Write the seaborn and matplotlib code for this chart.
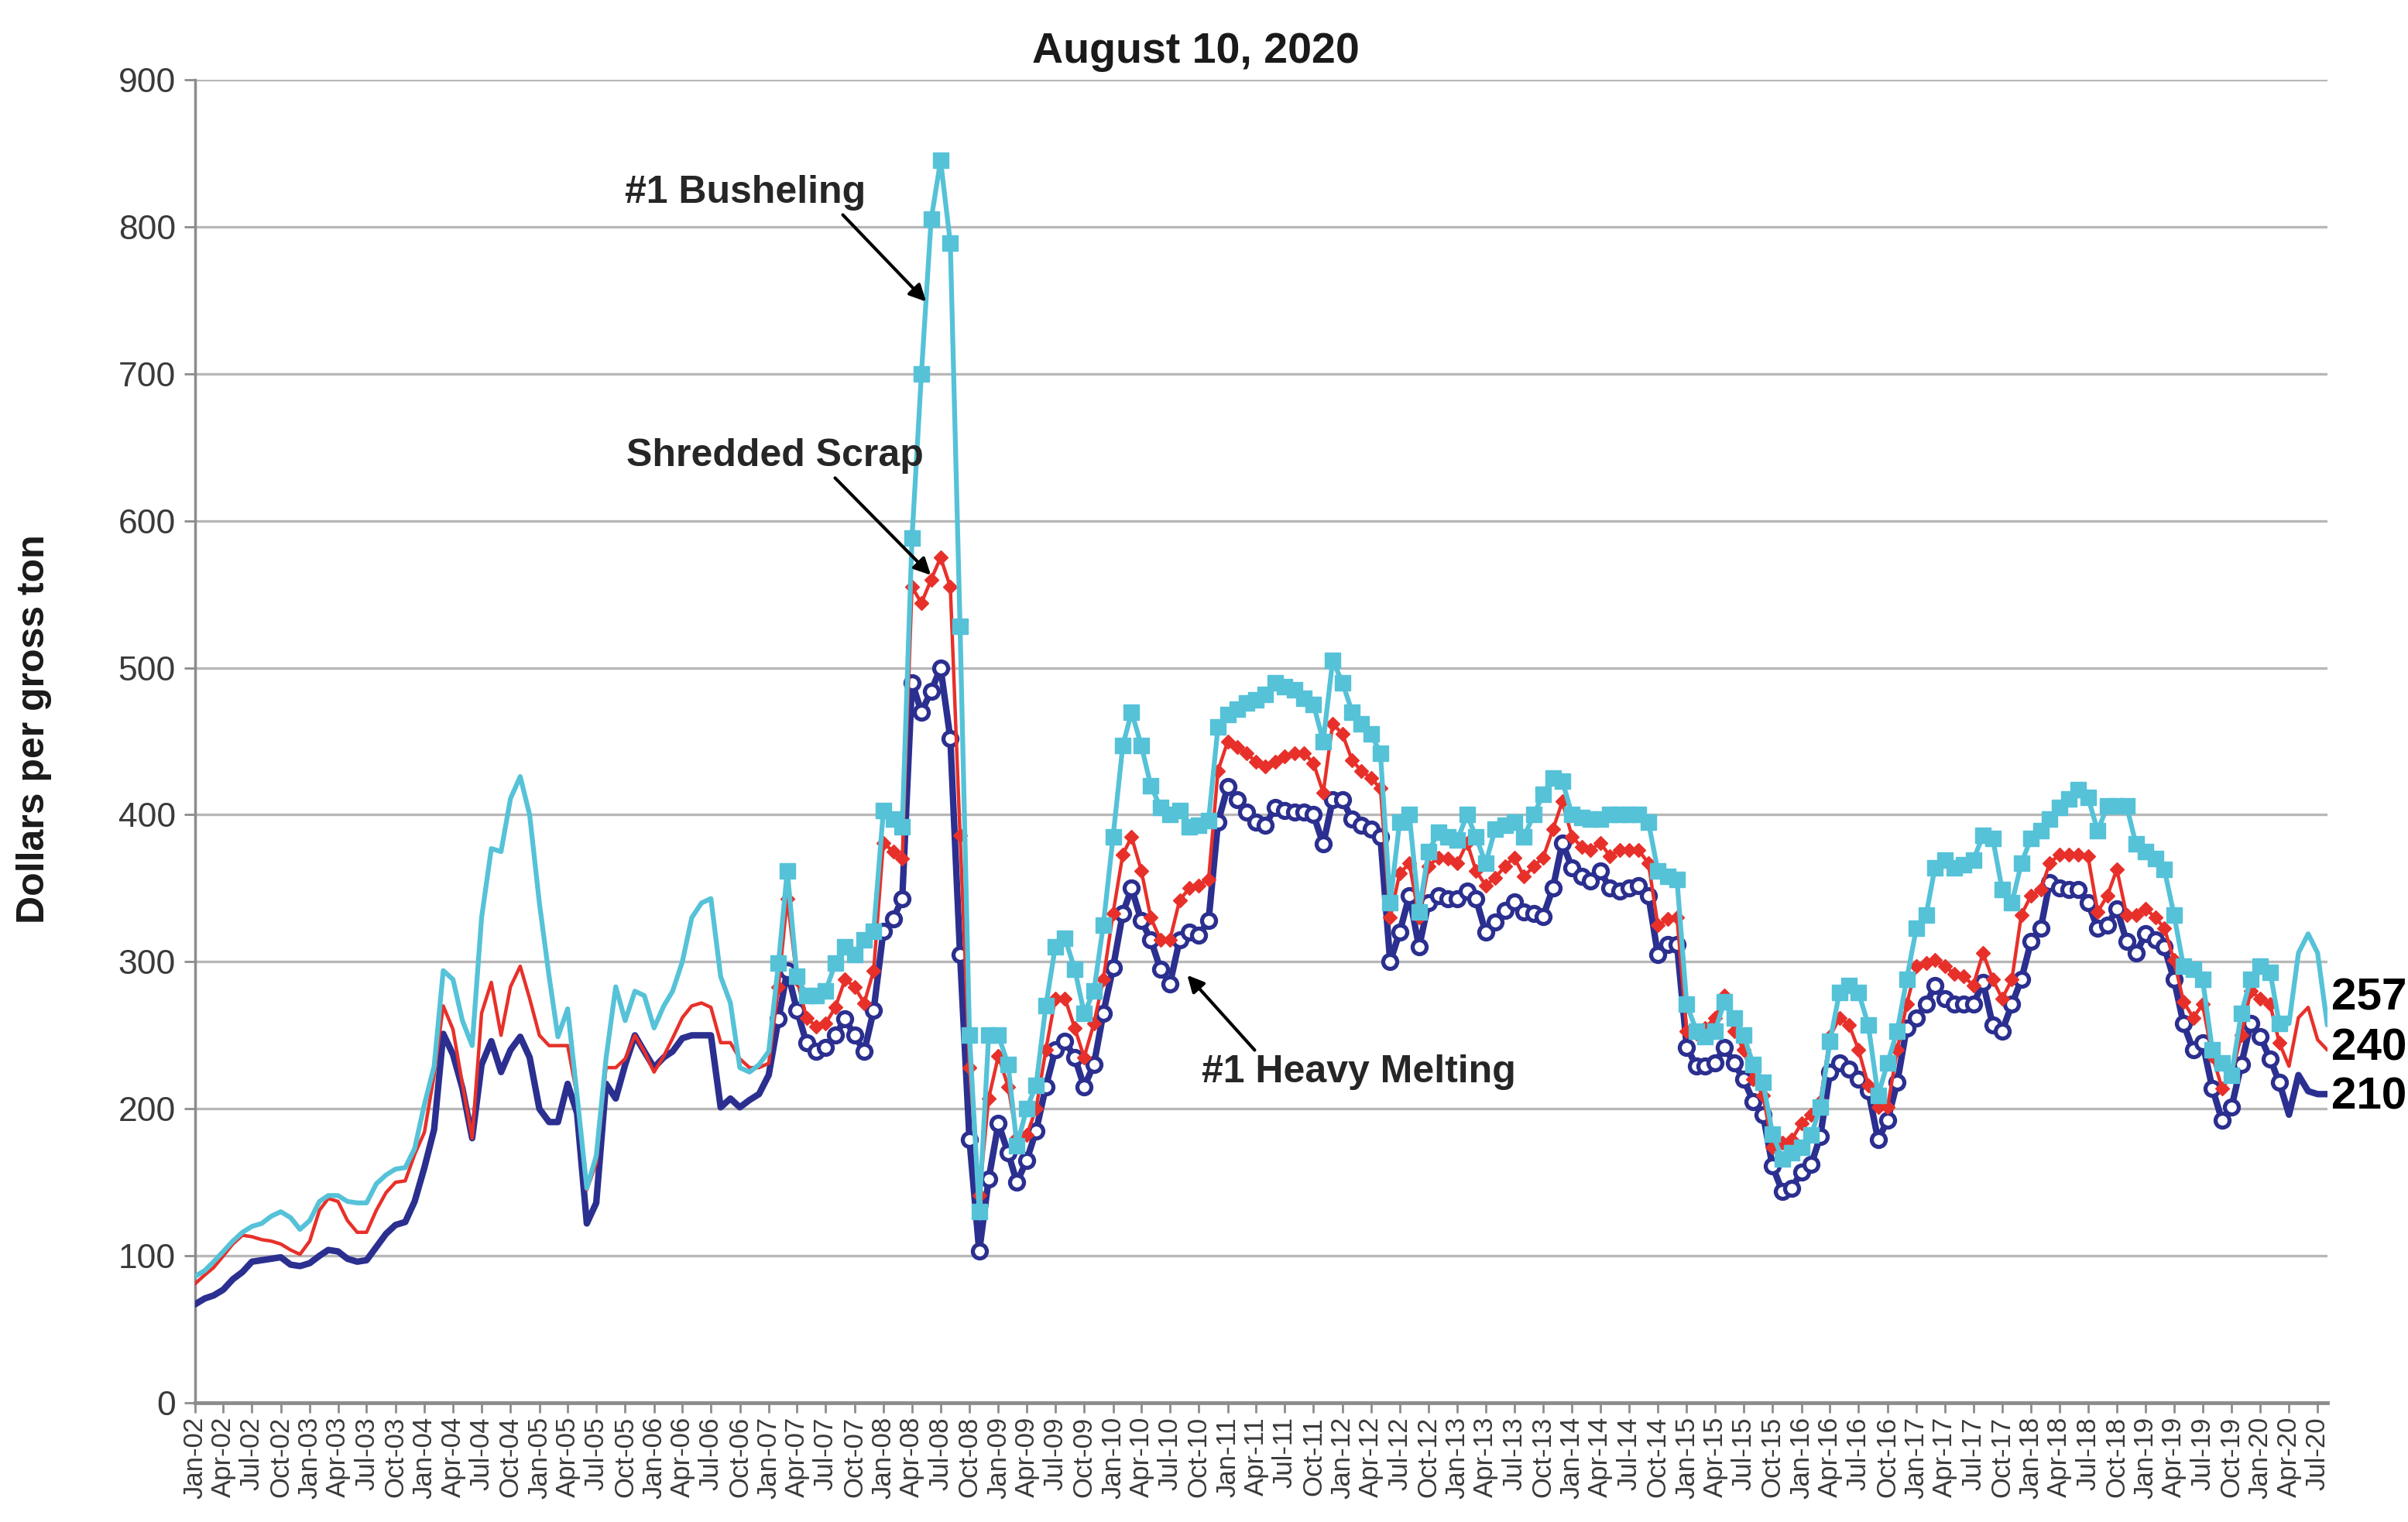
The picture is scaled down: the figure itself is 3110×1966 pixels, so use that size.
import matplotlib
matplotlib.use("Agg")
import matplotlib.pyplot as plt
import matplotlib.dates as mdates
import numpy as np
import pandas as pd
import seaborn as sns

# monthly readings, Jan-02 .. Aug-20 ($ per gross ton)
months = pd.date_range("2002-01-01", "2020-08-01", freq="MS")

heavy_melting = [
    67, 71, 73, 77, 84, 89, 96, 97, 98, 99, 94, 93,
    95, 100, 104, 103, 98, 96, 97, 106, 115, 121, 123, 137,
    160, 186, 251, 237, 214, 180, 230, 246, 225, 240, 249, 235,
    200, 191, 191, 217, 197, 122, 136, 217, 207, 230, 250, 239,
    228, 235, 239, 248, 250, 250, 250, 201, 207, 201, 206, 210,
    223, 261, 294, 267, 245, 239, 242, 250, 261, 250, 239, 267,
    321, 329, 343, 490, 470, 484, 500, 452, 305, 179, 103, 152,
    190, 170, 150, 165, 185, 215, 240, 246, 235, 215, 230, 265,
    296, 333, 350, 328, 315, 295, 285, 315, 320, 318, 328, 395,
    419, 410, 402, 395, 393, 405, 403, 402, 402, 400, 380, 410,
    410, 397, 393, 390, 385, 300, 320, 345, 310, 340, 345, 343,
    343, 348, 343, 320, 327, 335, 341, 334, 333, 331, 350, 381,
    364, 358, 355, 362, 350, 348, 350, 352, 345, 305, 312, 312,
    242, 229, 229, 231, 242, 231, 220, 205, 196, 161, 144, 146,
    157, 162, 181, 225, 231, 227, 220, 212, 179, 192, 218, 255,
    262, 271, 284, 275, 271, 271, 271, 286, 257, 253, 271, 288,
    314, 323, 354, 350, 349, 349, 340, 323, 325, 336, 314, 306,
    319, 315, 310, 288, 258, 240, 245, 214, 192, 201, 230, 258,
    249, 234, 218, 196, 223, 212, 210, 210,
]

shredded = [
    81, 87, 92, 100, 108, 114, 113, 111, 110, 108, 104, 101,
    110, 131, 139, 137, 124, 116, 116, 131, 143, 150, 151, 169,
    184, 223, 270, 254, 217, 180, 265, 286, 250, 283, 297, 275,
    250, 243, 243, 243, 209, 145, 163, 228, 228, 234, 250, 239,
    225, 236, 248, 262, 270, 272, 269, 245, 245, 234, 228, 228,
    231, 283, 343, 288, 262, 256, 258, 269, 288, 283, 272, 294,
    381, 375, 370, 555, 544, 560, 575, 555, 386, 228, 141, 207,
    236, 215, 180, 182, 200, 240, 275, 275, 255, 235, 258, 288,
    333, 373, 385, 362, 330, 315, 315, 342, 350, 352, 356, 430,
    450, 446, 442, 436, 433, 436, 440, 442, 442, 435, 415, 462,
    455, 437, 430, 425, 418, 330, 360, 367, 330, 365, 371, 370,
    367, 381, 362, 352, 357, 365, 371, 358, 365, 371, 390, 409,
    385, 378, 376, 381, 372, 376, 376, 376, 367, 325, 329, 330,
    253, 251, 255, 262, 277, 253, 240, 220, 209, 174, 177, 179,
    190, 196, 205, 249, 262, 257, 240, 216, 201, 201, 240, 271,
    297, 299, 301, 297, 292, 290, 284, 306, 288, 275, 288, 332,
    345, 349, 367, 373, 373, 373, 372, 334, 345, 363, 332, 332,
    336, 330, 323, 301, 273, 262, 271, 236, 214, 223, 250, 280,
    275, 271, 245, 229, 262, 269, 247, 240,
]

busheling = [
    86, 90, 96, 103, 110, 116, 120, 122, 127, 130, 126, 118,
    124, 137, 141, 141, 137, 136, 136, 149, 155, 159, 160, 173,
    203, 229, 294, 288, 260, 243, 330, 377, 375, 411, 426, 400,
    340, 290, 249, 268, 209, 146, 168, 234, 283, 260, 280, 277,
    255, 270, 280, 300, 330, 340, 343, 290, 272, 228, 225, 230,
    239, 299, 362, 290, 277, 277, 280, 299, 310, 305, 315, 321,
    403, 397, 392, 588, 700, 805, 845, 789, 528, 250, 130, 250,
    250, 230, 175, 200, 216, 270, 310, 316, 295, 265, 280, 325,
    385, 447, 470, 447, 420, 405, 400, 403, 392, 393, 396, 460,
    468, 472, 476, 478, 482, 490, 487, 485, 479, 475, 450, 505,
    490, 470, 462, 455, 442, 340, 395, 400, 334, 375, 388, 385,
    383, 400, 385, 367, 390, 393, 395, 385, 400, 414, 425, 423,
    400, 398, 397, 397, 400, 400, 400, 400, 395, 362, 358, 356,
    271, 253, 249, 253, 273, 262, 250, 230, 218, 183, 166, 170,
    174, 182, 201, 246, 279, 284, 279, 257, 209, 231, 253, 288,
    323, 332, 364, 369, 364, 366, 369, 386, 384, 349, 340, 367,
    384, 389, 397, 405, 411, 417, 412, 389, 406, 406, 406, 380,
    375, 370, 363, 332, 297, 295, 288, 240, 231, 223, 265, 288,
    297, 293, 258, 258, 306, 319, 306, 257,
]

end_labels = ["257", "240", "210"]

NAVY = "#2b2f8f"
RED = "#e8302a"
CYAN = "#55c2d8"
GRID = "#b8b8b8"
AXIS = "#8c8c8c"

df = pd.DataFrame({
    "date": months,
    "hms": heavy_melting,
    "shred": shredded,
    "bush": busheling,
})

# markers are only shown on the middle stretch of the record
marked = slice(61, 219)


def month_pos(m):
    return pd.Timestamp("2002-01-01") + pd.Timedelta(days=m * 30.44)


sns.set_theme(style="white")
plt.rcParams["font.family"] = ["Liberation Sans", "DejaVu Sans"]

fig = plt.figure(figsize=(31.1, 19.66), dpi=100)
ax = fig.add_axes([0.081, 0.0783, 0.8855, 0.8693])

sns.lineplot(data=df, x="date", y="hms", ax=ax, color=NAVY, linewidth=6,
             marker="o", markersize=13, markerfacecolor="white",
             markeredgecolor=NAVY, markeredgewidth=3.8, markevery=marked,
             errorbar=None, zorder=3)
sns.lineplot(data=df, x="date", y="shred", ax=ax, color=RED, linewidth=3.2,
             marker="D", markersize=9, markerfacecolor=RED,
             markeredgecolor=RED, markeredgewidth=1, markevery=marked,
             errorbar=None, zorder=4)
sns.lineplot(data=df, x="date", y="bush", ax=ax, color=CYAN, linewidth=4.5,
             marker="s", markersize=14, markerfacecolor=CYAN,
             markeredgecolor=CYAN, markeredgewidth=1, markevery=marked,
             errorbar=None, zorder=5)

ax.set_xlim(months[0], months[-1])
ax.set_ylim(0, 900)
ax.set_yticks(np.arange(0, 901, 100))
ax.xaxis.set_major_locator(mdates.MonthLocator(bymonth=(1, 4, 7, 10)))
ax.xaxis.set_major_formatter(mdates.DateFormatter("%b-%y"))

ax.yaxis.grid(True, color=GRID, linewidth=2.4)
ax.xaxis.grid(False)
ax.set_axisbelow(True)
for side in ["top", "right"]:
    ax.spines[side].set_visible(False)
ax.spines["left"].set_color(AXIS)
ax.spines["left"].set_linewidth(2.5)
ax.spines["bottom"].set_color(AXIS)
ax.spines["bottom"].set_linewidth(3.5)

ax.tick_params(axis="x", labelrotation=90, labelsize=25, length=9, width=2,
               color=AXIS, labelcolor="#3a3a3a", pad=4, bottom=True)
ax.tick_params(axis="y", labelsize=32, length=10, width=2, color=AXIS,
               labelcolor="#3a3a3a", pad=8, left=True)
ax.set_xlabel("")
ax.set_ylabel("")

fig.text(0.0141, 0.521, "Dollars per gross ton", rotation=90, ha="center",
         va="center", fontsize=36, fontweight="bold", color="#1a1a1a")
fig.text(0.4965, 0.966, "August 10, 2020", ha="center", va="center",
         fontsize=40, fontweight="bold", color="#1a1a1a")

# latest values written beside the line ends
for txt, yv in zip(end_labels, [275, 241, 208]):
    ax.text(1.002, yv, txt, transform=ax.get_yaxis_transform(), ha="left",
            va="center", fontsize=42, fontweight="bold", color="black",
            clip_on=False)

arrow = dict(arrowstyle="-|>", color="black", lw=3, mutation_scale=32)
ax.annotate("#1 Busheling", xy=(month_pos(76.6), 748),
            xytext=(month_pos(57.5), 823), ha="center", va="center",
            fontsize=36, fontweight="bold",
            arrowprops=dict(arrow, relpos=(0.89, 0.0)), zorder=6)
ax.annotate("Shredded Scrap", xy=(month_pos(77.1), 562),
            xytext=(month_pos(60.6), 644), ha="center", va="center",
            fontsize=36, fontweight="bold",
            arrowprops=dict(arrow, relpos=(0.69, 0.0)), zorder=6)
ax.annotate("#1 Heavy Melting", xy=(month_pos(103.6), 292),
            xytext=(month_pos(121.7), 225), ha="center", va="center",
            fontsize=36, fontweight="bold",
            arrowprops=dict(arrow, relpos=(0.18, 1.0)), zorder=6)

fig.savefig("out.png", dpi=100)
